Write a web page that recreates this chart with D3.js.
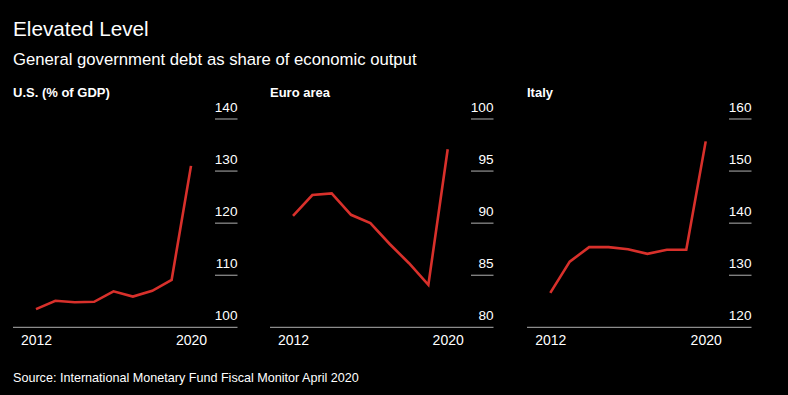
<!DOCTYPE html>
<html><head><meta charset="utf-8">
<script src="https://cdn.jsdelivr.net/npm/d3@7"></script>
<style>
html,body{margin:0;padding:0;background:#000;}
svg{display:block;font-family:"Liberation Sans",Arial,Helvetica,sans-serif;}
</style></head>
<body>
<svg id="chart" width="788" height="395"></svg>
<script>
const years = [2012,2013,2014,2015,2016,2017,2018,2019,2020];
const xTickYears = [2012,2020];
const usValues = [103.5,105.1,104.8,104.9,106.9,105.9,107.0,109.1,131.0];
const euroValues = [90.7,92.7,92.85,90.8,90.0,88.0,86.15,84.07,97.1];
const italyValues = [126.6,132.6,135.4,135.4,135.0,134.1,134.9,134.9,155.7];
const panelTitles = ["U.S. (% of GDP)","Euro area","Italy"];
const usTicks = [100,110,120,130,140];
const euroTicks = [80,85,90,95,100];
const italyTicks = [120,130,140,150,160];

const panels = [
  {title:panelTitles[0], values:usValues, ticks:usTicks, left:13, right:237.5, x0:36, x1:191},
  {title:panelTitles[1], values:euroValues, ticks:euroTicks, left:270, right:493.5, x0:293, x1:447.7},
  {title:panelTitles[2], values:italyValues, ticks:italyTicks, left:527, right:751.5, x0:550.3, x1:705.7}
];

const svg = d3.select("#chart");
svg.append("rect").attr("width",788).attr("height",395).attr("fill","#000");
svg.append("text").attr("x",13).attr("y",36).attr("fill","#fff")
  .attr("font-size",20.7).text("Elevated Level");
svg.append("text").attr("x",13).attr("y",64.5).attr("fill","#fff")
  .attr("font-size",16.7).text("General government debt as share of economic output");
svg.append("text").attr("x",13).attr("y",382).attr("fill","#fff")
  .attr("font-size",12.6).text("Source: International Monetary Fund Fiscal Monitor April 2020");

const yTop = 119, yBottom = 327.3;

panels.forEach(p => {
  const g = svg.append("g");
  g.append("text").attr("x",p.left).attr("y",96.5).attr("fill","#fff")
    .attr("font-size",13).attr("font-weight","bold").text(p.title);
  const x = d3.scaleLinear().domain([years[0],years[years.length-1]]).range([p.x0,p.x1]);
  const y = d3.scaleLinear().domain([p.ticks[0],p.ticks[p.ticks.length-1]]).range([yBottom,yTop]);
  p.ticks.forEach((t,i) => {
    if (i>0) {
      g.append("line").attr("x1",p.right-22.5).attr("x2",p.right)
        .attr("y1",y(t)).attr("y2",y(t)).attr("stroke","#b0b0b0").attr("stroke-width",1);
    }
    g.append("text").attr("x",p.right).attr("y",y(t)-7).attr("text-anchor","end")
      .attr("fill","#fff").attr("font-size",13.6).text(t);
  });
  g.append("line").attr("x1",p.left).attr("x2",p.right).attr("y1",yBottom).attr("y2",yBottom)
    .attr("stroke","#b0b0b0").attr("stroke-width",1);
  const xAxis = d3.axisBottom(x).tickValues(xTickYears).tickFormat(d3.format("d")).tickSize(0).tickPadding(0);
  const ax = g.append("g").attr("transform",`translate(0,${yBottom})`).call(xAxis);
  ax.select(".domain").remove();
  ax.selectAll("text").attr("fill","#fff").attr("font-size",14)
    .attr("font-family","Liberation Sans,Arial,sans-serif").attr("dy",null).attr("y",18);
  const line = d3.line().x((d,i)=>x(years[i])).y(d=>y(d));
  g.append("path").datum(p.values).attr("d",line).attr("fill","none")
    .attr("stroke","#d8302b").attr("stroke-width",2.6).attr("stroke-linejoin","miter");
});
</script>
</body></html>
